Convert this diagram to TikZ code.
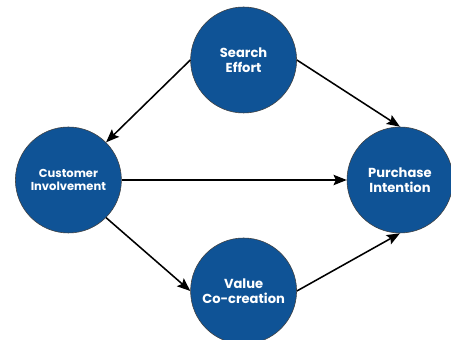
\documentclass[tikz,border=0pt]{standalone}
\usepackage{fontspec}
\setmainfont{Poppins}[UprightFont=* SemiBold,BoldFont=* Bold]
\usetikzlibrary{arrows.meta}
\definecolor{circblue}{RGB}{15,83,150}
\begin{document}
\begin{tikzpicture}[>={Stealth[length=3.3mm,width=2.6mm,inset=0.6mm]},
    var/.style={circle,fill=circblue,draw=black!75,line width=0.4pt,
        minimum size=2.65cm,inner sep=0pt,text=white,align=center,
        font=\bfseries\fontsize{9.3}{10.6}\selectfont},
    path/.style={->,line width=1.1pt}]
    \useasboundingbox (0,0) rectangle (11.275,8.5);
    \node[var] (search) at (6.09,7.0) {Search\\Effort};
    \node[var,font=\bfseries\fontsize{8.2}{9.5}\selectfont] (involve) at (1.71,4.0) {Customer\\Involvement};
    \node[var] (purchase) at (10.0,4.0) {Purchase\\Intention};
    \node[var] (value) at (6.09,1.225) {Value\\Co-creation};
    \draw[path] (search.west) -- (involve.north east);
    \draw[path] (search.east) -- (purchase.north);
    \draw[path] (involve.east) -- (purchase.west);
    \draw[path] (involve.south east) -- (value.west);
    \draw[path] (value.east) -- (purchase.south);
\end{tikzpicture}
\end{document}
